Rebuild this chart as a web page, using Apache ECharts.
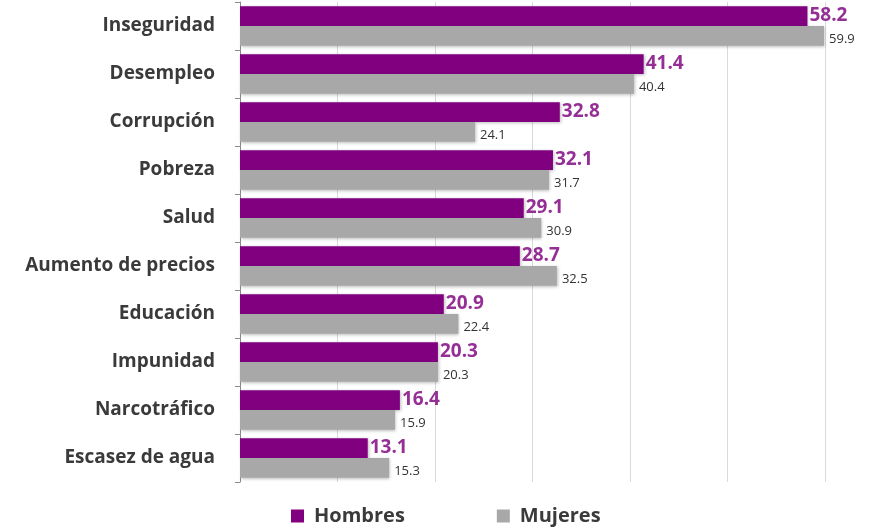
<!DOCTYPE html>
<html><head><meta charset="utf-8">
<script src="https://cdn.jsdelivr.net/npm/echarts@6/dist/echarts.min.js"></script>
<style>html,body{margin:0;padding:0;background:#fff}#c{width:881px;height:528px}</style>
</head><body><div id="c"></div>
<script>
const categories = ["Inseguridad","Desempleo","Corrupción","Pobreza","Salud","Aumento de precios","Educación","Impunidad","Narcotráfico","Escasez de agua"];
const hombres = [58.2,41.4,32.8,32.1,29.1,28.7,20.9,20.3,16.4,13.1];
const mujeres = [59.9,40.4,24.1,31.7,30.9,32.5,22.4,20.3,15.9,15.3];
const seriesNames = ["Hombres","Mujeres"];

const chart = echarts.init(document.getElementById('c'));
chart.setOption({
  animation:false,
  grid:{left:240,right:56,top:2,bottom:46,containLabel:false},
  legend:{
    top:501,left:286,itemWidth:13,itemHeight:13,itemGap:92,
    icon:'rect',
    textStyle:{fontFamily:'Open Sans',fontWeight:'bold',fontSize:20,color:'#3a3a3a',padding:[0,0,0,5]},
    data:seriesNames
  },
  xAxis:{type:'value',min:0,max:60,interval:10,
    axisLabel:{show:false},axisLine:{show:false},axisTick:{show:false},
    splitLine:{lineStyle:{color:'#DADADA',width:1}}},
  yAxis:{type:'category',data:categories,inverse:true,
    axisLine:{lineStyle:{color:'#8a8a8a'}},
    axisTick:{show:true,length:5,lineStyle:{color:'#8a8a8a'}},
    axisLabel:{fontFamily:'Open Sans',fontWeight:'bold',fontSize:19,color:'#3a3a3a',margin:25,padding:[5,0,0,0]}},
  series:[
    {name:seriesNames[0],type:'bar',data:hombres,barGap:'0%',barCategoryGap:'18%',
     itemStyle:{color:'#800080',shadowColor:'rgba(0,0,0,0.25)',shadowBlur:3,shadowOffsetX:1,shadowOffsetY:1},
     label:{show:true,position:'right',distance:2,offset:[0,-1],color:'#952F95',fontFamily:'Open Sans',fontWeight:'bold',fontSize:19}},
    {name:seriesNames[1],type:'bar',data:mujeres,
     itemStyle:{color:'#A8A8A8',shadowColor:'rgba(0,0,0,0.25)',shadowBlur:3,shadowOffsetX:1,shadowOffsetY:1},
     label:{show:true,position:'right',distance:5,offset:[0,3],color:'#333',fontFamily:'Open Sans',fontSize:13}}
  ]
});
</script></body></html>
